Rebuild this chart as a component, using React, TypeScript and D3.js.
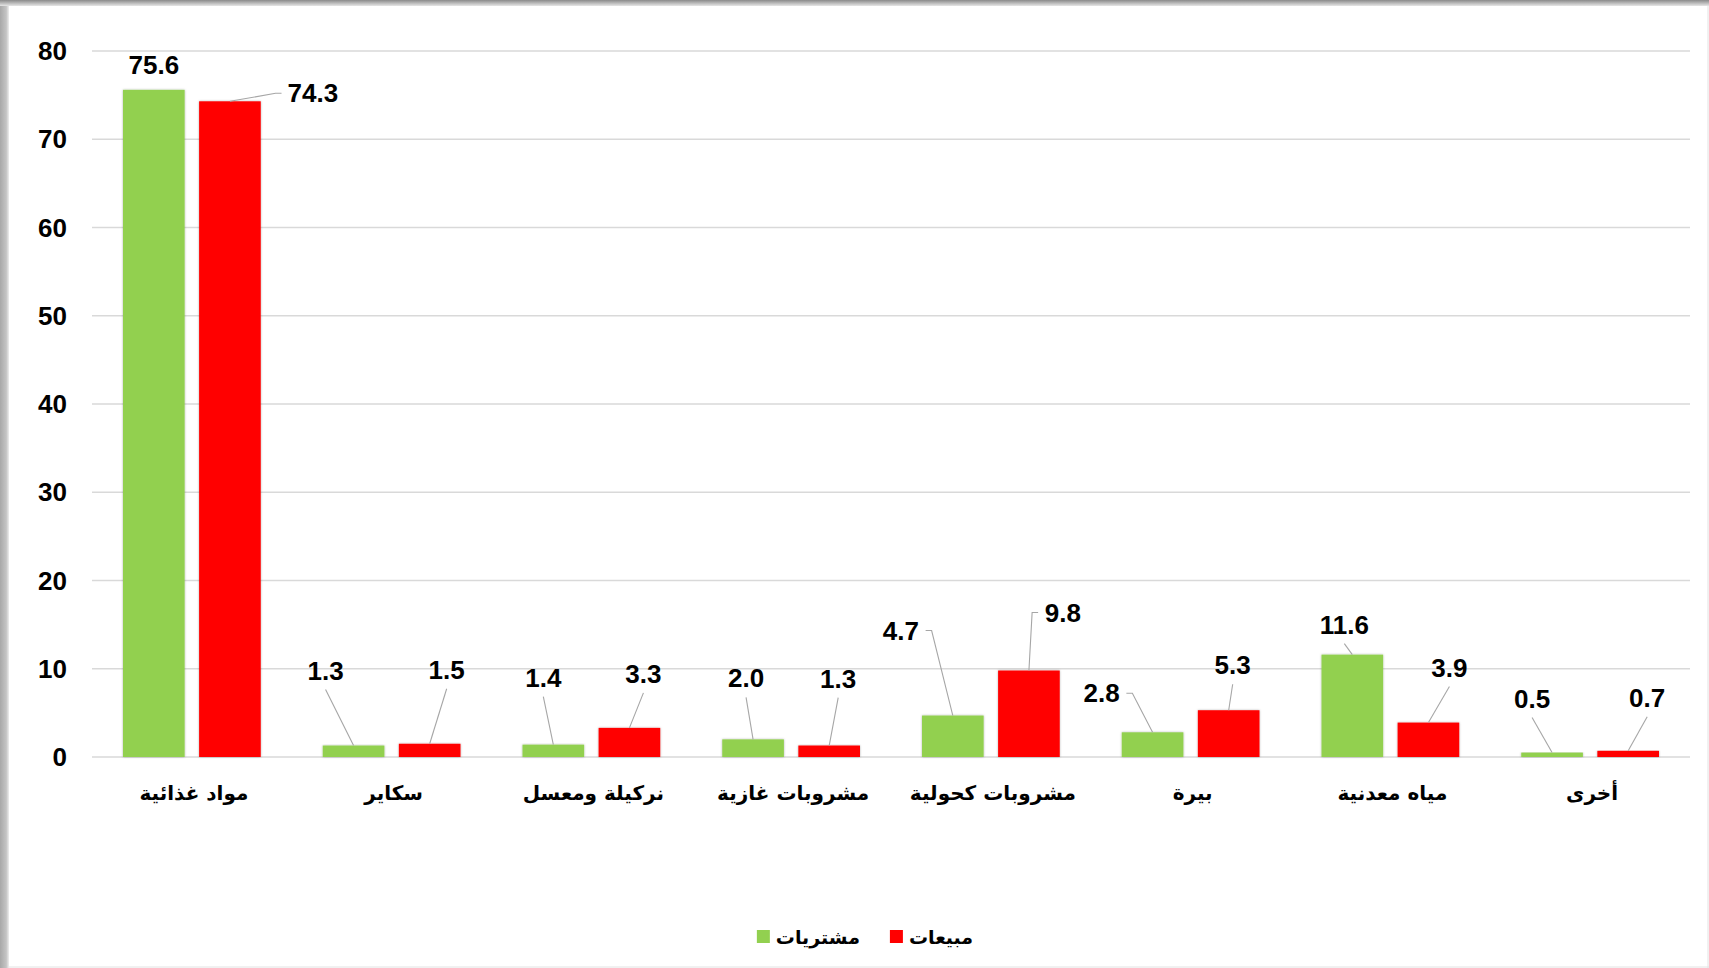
import React, { useEffect, useRef } from 'react';
import * as d3 from 'd3';

const categories = ['مواد غذائية', 'سكاير', 'نركيلة ومعسل', 'مشروبات غازية', 'مشروبات كحولية', 'بيرة', 'مياه معدنية', 'أخرى'];
const seriesNames = ['مشتريات', 'مبيعات'];
const purchases = [75.6, 1.3, 1.4, 2.0, 4.7, 2.8, 11.6, 0.5];
const sales = [74.3, 1.5, 3.3, 1.3, 9.8, 5.3, 3.9, 0.7];
const yTicks = [0, 10, 20, 30, 40, 50, 60, 70, 80];

// label placement (offset of the label centre from the top of its bar)
const purchaseLabelOffsets = [[0, -25], [-28, -75], [-10, -67], [-7, -61], [-52, -85], [-51, -39], [-8, -30], [-20, -54]];
const salesLabelOffsets = [[83, -8], [17, -74], [14, -54], [9, -67], [34, -58], [4, -45], [21, -55], [19, -53]];

const colors = ['#92D050', '#FF0000'];

export default function App() {
  const ref = useRef<SVGSVGElement | null>(null);

  useEffect(() => {
    const W = 1709, H = 968;
    const svg = d3.select(ref.current);
    svg.selectAll('*').remove();

    const defs = svg.append('defs');
    const topGrad = defs.append('linearGradient').attr('id', 'topG').attr('x1', 0).attr('y1', 0).attr('x2', 0).attr('y2', 1);
    topGrad.append('stop').attr('offset', '0%').attr('stop-color', '#8a8a8a');
    topGrad.append('stop').attr('offset', '100%').attr('stop-color', '#e6e6e6');
    const leftGrad = defs.append('linearGradient').attr('id', 'leftG').attr('x1', 0).attr('y1', 0).attr('x2', 1).attr('y2', 0);
    leftGrad.append('stop').attr('offset', '0%').attr('stop-color', '#a8a8a8');
    leftGrad.append('stop').attr('offset', '70%').attr('stop-color', '#c4c4c4');
    leftGrad.append('stop').attr('offset', '100%').attr('stop-color', '#eeeeee');
    const shadow = defs.append('filter').attr('id', 'barShadow').attr('x', '-10%').attr('y', '-10%').attr('width', '120%').attr('height', '120%');
    shadow.append('feDropShadow').attr('dx', 0).attr('dy', 0).attr('stdDeviation', 1.2).attr('flood-color', '#000').attr('flood-opacity', 0.3);

    // frame
    svg.append('rect').attr('width', W).attr('height', H).attr('fill', '#fff');
    svg.append('rect').attr('x', 0).attr('y', 0).attr('width', 9).attr('height', H).attr('fill', 'url(#leftG)');
    svg.append('rect').attr('x', 0).attr('y', 0).attr('width', W).attr('height', 6).attr('fill', 'url(#topG)');
    svg.append('line').attr('x1', W - 1).attr('x2', W - 1).attr('y1', 6).attr('y2', H).attr('stroke', '#e2e2e2');
    svg.append('line').attr('x1', 9).attr('x2', W).attr('y1', H - 1).attr('y2', H - 1).attr('stroke', '#e2e2e2');

    const left = 92, right = 1690, top = 51, bottom = 757;
    const x0 = d3.scaleBand<string>().domain(categories).range([left, right]);
    const x1 = d3.scaleBand<string>().domain(seriesNames).range([31, x0.bandwidth() - 31]).paddingInner(0.19);
    const y = d3.scaleLinear().domain([0, 80]).range([bottom, top]);

    const g = svg.append('g');

    // gridlines
    g.selectAll('line.grid').data(yTicks).enter().append('line')
      .attr('class', 'grid')
      .attr('x1', left).attr('x2', right)
      .attr('y1', d => y(d)).attr('y2', d => y(d))
      .attr('stroke', '#d9d9d9').attr('stroke-width', 1.3);

    // y axis labels
    g.selectAll('text.ytick').data(yTicks).enter().append('text')
      .attr('class', 'ytick')
      .attr('x', 67).attr('y', d => y(d)).attr('dy', '0.35em')
      .attr('text-anchor', 'end')
      .style('font-family', "'Liberation Sans', Arial, sans-serif")
      .style('font-weight', 'bold').style('font-size', '26px').attr('fill', '#000')
      .text(d => d);

    const seriesData = [purchases, sales];
    const offsets = [purchaseLabelOffsets, salesLabelOffsets];

    seriesData.forEach((vals, si) => {
      const name = seriesNames[si];
      g.selectAll(`rect.s${si}`).data(vals).enter().append('rect')
        .attr('class', `s${si}`)
        .attr('x', (d, i) => (x0(categories[i]) as number) + (x1(name) as number))
        .attr('y', d => y(d))
        .attr('width', x1.bandwidth())
        .attr('height', d => bottom - y(d))
        .attr('fill', colors[si])
        .attr('filter', 'url(#barShadow)');
    });

    // data labels + leader lines
    seriesData.forEach((vals, si) => {
      const name = seriesNames[si];
      vals.forEach((v, i) => {
        const bx = (x0(categories[i]) as number) + (x1(name) as number) + x1.bandwidth() / 2;
        const by = y(v);
        const [dx, dy] = offsets[si][i];
        const cx = bx + dx, cy = by + dy;
        const label = v.toFixed(1);
        const hw = label.length * 6.6;
        if (Math.abs(dx) > 30) {
          const side = dx > 0 ? -1 : 1;
          const sx = cx + side * (hw + 5);
          const ex = sx + side * 6;
          g.append('path')
            .attr('d', d3.line()([[sx, cy], [ex, cy], [bx, by]]))
            .attr('fill', 'none').attr('stroke', '#a6a6a6').attr('stroke-width', 1.1);
        } else if (dy < -28) {
          g.append('line')
            .attr('x1', cx).attr('y1', cy + 19).attr('x2', bx).attr('y2', by)
            .attr('stroke', '#a6a6a6').attr('stroke-width', 1.1);
        }
        g.append('text')
          .attr('x', cx).attr('y', cy).attr('dy', '0.35em')
          .attr('text-anchor', 'middle')
          .style('font-family', "'Liberation Sans', Arial, sans-serif")
          .style('font-weight', 'bold').style('font-size', '26px').attr('fill', '#000')
          .text(label);
      });
    });

    // category labels
    g.selectAll('text.cat').data(categories).enter().append('text')
      .attr('class', 'cat')
      .attr('x', d => (x0(d) as number) + x0.bandwidth() / 2 + 2)
      .attr('y', 793).attr('dy', '0.35em')
      .attr('text-anchor', 'middle')
      .attr('direction', 'rtl')
      .style('font-family', "'DejaVu Sans', sans-serif")
      .style('font-weight', 'bold').style('font-size', '20px').attr('fill', '#000')
      .text(d => d);

    // legend: [square][text]  [square][text], centred
    const lg = svg.append('g');
    const items = seriesNames.map((name, si) => {
      const t = lg.append('text')
        .attr('y', 937).attr('dy', '0.35em')
        .attr('text-anchor', 'start')
        .style('font-family', "'DejaVu Sans', sans-serif")
        .style('font-weight', 'bold').style('font-size', '19px').attr('fill', '#000')
        .text(name);
      const w = (t.node() as SVGTextElement).getComputedTextLength();
      const r = lg.append('rect').attr('y', 930).attr('width', 13).attr('height', 13).attr('fill', colors[si]);
      return { t, r, w };
    });
    const box = 13, gap = 6, itemGap = 30;
    const total = items.reduce((s, it) => s + box + gap + it.w, 0) + itemGap * (items.length - 1);
    let cur = 865 - total / 2;
    items.forEach(it => {
      it.r.attr('x', cur);
      it.t.attr('x', cur + box + gap);
      cur += box + gap + it.w + itemGap;
    });
  }, []);

  return (
    <div style={{ position: 'fixed', left: 0, top: 0 }}>
      <svg ref={ref} width={1709} height={968} style={{ display: 'block' }} />
    </div>
  );
}
